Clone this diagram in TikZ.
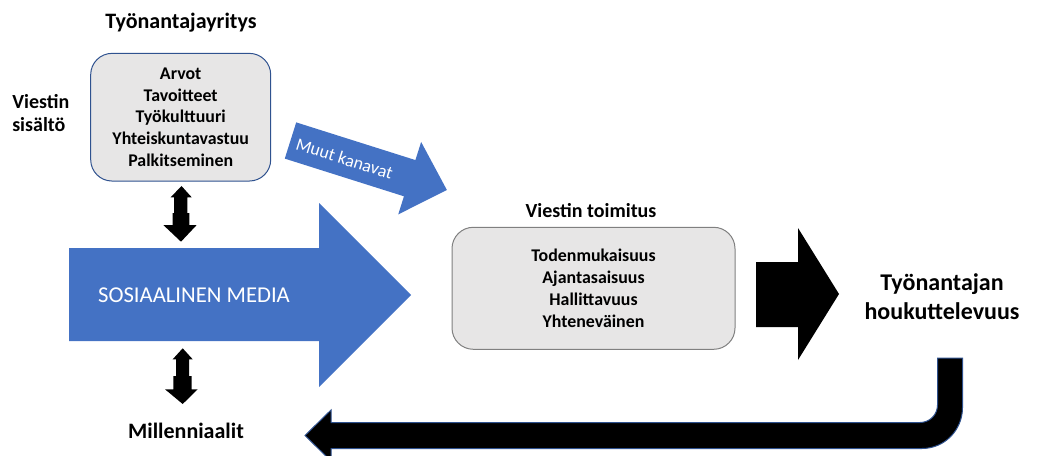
\documentclass[tikz,border=0pt]{standalone}
\usepackage{fontspec}
\setmainfont{Carlito}
\definecolor{oblue}{HTML}{4472C4}
\definecolor{dblue}{HTML}{2F528F}
\definecolor{boxgray}{HTML}{E7E6E6}
\definecolor{bordergray}{HTML}{808080}
\begin{document}
\begin{tikzpicture}[x=0.75pt,y=-0.75pt,
  title/.style={font=\bfseries\fontsize{16.5}{20}\selectfont, inner sep=0, align=center},
  subtitle/.style={font=\bfseries\fontsize{15}{17.5}\selectfont, inner sep=0},
  boxtext/.style={font=\bfseries\fontsize{13.4}{16.4}\selectfont, align=center},
  orgbox/.style={draw=dblue, line width=0.75pt, fill=boxgray, rounded corners=16pt, boxtext},
  delbox/.style={draw=bordergray, line width=0.75pt, fill=boxgray, rounded corners=16pt, boxtext},
  bluearrow/.style={fill=oblue},
  blackarrow/.style={fill=black},
  uarrow/.style={fill=black, draw=dblue, line width=0.75pt},
]
\useasboundingbox (0,0) rectangle (1042,456);

% titles
\node[title] (employer) at (181,23) {Työnantajayritys};
\node[subtitle, anchor=west, align=left] (content) at (12,113) {Viestin\\sisältö};
\node[subtitle] (delivery) at (591,211) {Viestin toimitus};

% box 1
\node[orgbox, minimum width=135pt, minimum height=95.75pt] (org) at (180.7,117.2)
  {Arvot\\Tavoitteet\\Työkulttuuri\\Yhteiskuntavastuu\\Palkitseminen};

% box 2
\node[delbox, minimum width=212.25pt, minimum height=91.5pt] (deliv) at (593.5,288.3)
  {Todenmukaisuus\\Ajantasaisuus\\Hallittavuus\\Yhteneväinen};

% big blue arrow
\fill[bluearrow] (69,248) -- (319,248) -- (319,203) -- (411,295) -- (319,387) -- (319,341) -- (69,341) -- cycle;
\node[font=\fontsize{17}{20}\selectfont, text=white, inner sep=0] (media) at (194,295) {SOSIAALINEN MEDIA};

% "Muut kanavat" arrow
\begin{scope}[shift={(290.5,140.5)}, rotate=-17.55]
  \fill[bluearrow] (0,-19) -- (125,-19) -- (125,-38) -- (164,0) -- (125,38) -- (125,19) -- (0,19) -- cycle;
  \node[font=\fontsize{13.4}{16}\selectfont, text=white, inner sep=0, rotate=-17.55] (other) at (57,1) {Muut kanavat};
\end{scope}

% double arrow top
\fill[blackarrow] (181.5,186) -- (191.7,197.3) -- (187.3,197.3) -- (187.3,213) -- (189.3,213) -- (189.3,225)
  -- (196.7,225) -- (181,241.7) -- (163.3,225) -- (172.7,225) -- (172.7,213) -- (174,213) -- (174,197.3)
  -- (170.7,197.3) -- cycle;
% double arrow bottom
\fill[blackarrow] (182.7,348.3) -- (192.7,359.3) -- (189,359.3) -- (189,376) -- (191.7,376) -- (191.7,389.3)
  -- (197.7,389.3) -- (182.7,404) -- (165,389.3) -- (173.3,389.3) -- (173.3,376) -- (176,376) -- (176,359.3)
  -- (172.7,359.3) -- cycle;

\node[title] (users) at (186,431) {Millenniaalit};

% black arrow right
\fill[blackarrow] (756,262) -- (798,262) -- (798,228) -- (839,294) -- (798,360) -- (798,327) -- (756,327) -- cycle;

\node[font=\bfseries\fontsize{18}{22}\selectfont, align=center, inner sep=0] (attract) at (942,297)
  {Työnantajan\\houkuttelevuus};

% U-turn arrow
\filldraw[uarrow] (937.5,358) -- (962.5,358) -- (962.5,407.5)
  .. controls (962.5,430.1) and (944.6,448.5) .. (922,448.5)
  -- (331,448.5) -- (331,461) -- (305,435.5) -- (331,410) -- (331,422.5) -- (920,422.5)
  .. controls (929.7,422.5) and (937.5,414.7) .. (937.5,405) -- cycle;
\end{tikzpicture}
\end{document}
